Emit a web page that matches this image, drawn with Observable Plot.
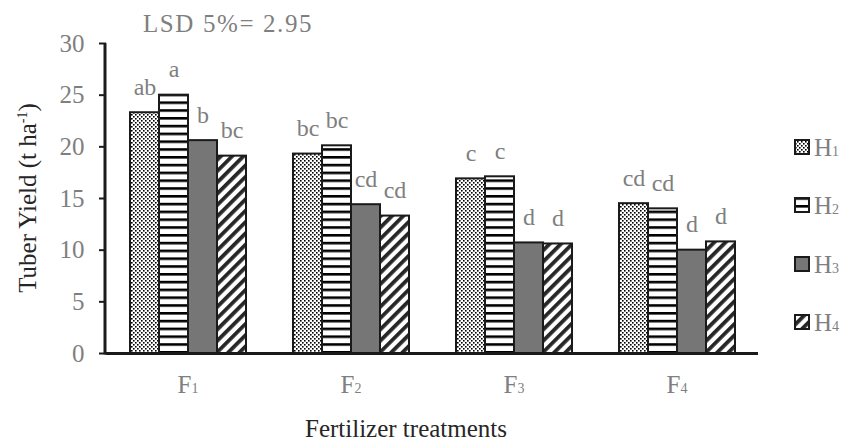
<!DOCTYPE html>
<html>
<head>
<meta charset="utf-8">
<script src="https://cdn.jsdelivr.net/npm/d3@7"></script>
<script src="https://cdn.jsdelivr.net/npm/@observablehq/plot@0.6"></script>
<style>
  html, body { margin: 0; padding: 0; background: #fff; }
  #chart { width: 842px; height: 441px; overflow: hidden; }
  #chart svg, #chart svg text { font-family: "Liberation Serif", "Times New Roman", serif !important; }
</style>
</head>
<body>
<div id="chart"></div>
<script>
// ---- data ----
const fertilizers = ["F1", "F2", "F3", "F4"];
const harvests = ["H1", "H2", "H3", "H4"];
const yieldH1 = [23.3, 19.3, 16.9, 14.5];
const yieldH2 = [25.0, 20.1, 17.1, 14.0];
const yieldH3 = [20.6, 14.4, 10.7, 10.0];
const yieldH4 = [19.1, 13.3, 10.6, 10.8];
const lettersH1 = ["ab", "bc", "c", "cd"];
const lettersH2 = ["a", "bc", "c", "cd"];
const lettersH3 = ["b", "cd", "d", "d"];
const lettersH4 = ["bc", "cd", "d", "d"];
const yTicks = [0, 5, 10, 15, 20, 25, 30];
const lsdText = "LSD 5%= 2.95";
const yTitle = "Tuber Yield (t ha";
const ySup = "-1";
const xTitle = "Fertilizer treatments";

const seriesValues = [yieldH1, yieldH2, yieldH3, yieldH4];
const seriesLetters = [lettersH1, lettersH2, lettersH3, lettersH4];
const data = [];
fertilizers.forEach((f, i) => {
  harvests.forEach((h, j) => {
    data.push({F: f, H: h, v: seriesValues[j][i], lab: seriesLetters[j][i]});
  });
});

const patternUrls = ["url(#pDots)", "url(#pHoriz)", "#767676", "url(#pDiag)"];
const gray = "#7f7f7f";
const dark = "#1a1a1a";

const plot = Plot.plot({
  width: 842,
  height: 441,
  marginLeft: 105,
  marginRight: 83,
  marginTop: 43,
  marginBottom: 88,
  style: {background: "#fff", overflow: "visible"},
  fx: {domain: fertilizers, padding: 0, label: null, axis: null},
  x: {domain: harvests, paddingOuter: 0.725, paddingInner: 0, axis: null},
  y: {domain: [0, 30], label: null},
  color: {domain: harvests, range: patternUrls},
  marks: [
    Plot.barY(data, {fx: "F", x: "H", y: "v", fill: "H", stroke: dark, strokeWidth: 2}),
    Plot.text(data, {fx: "F", x: "H", y: "v", text: "lab", lineAnchor: "bottom", dy: -18, fill: gray, fontSize: 24}),
    Plot.axisY({ticks: yTicks, tickSize: 7, tickPadding: 15, stroke: dark, strokeWidth: 2, fill: gray, fontSize: 25, label: null}),
    Plot.axisFx({anchor: "bottom", tickSize: 0, tickPadding: 22, fill: gray, fontSize: 25, label: null}),
    Plot.ruleY([0], {stroke: dark, strokeWidth: 3})
  ]
});

document.getElementById("chart").appendChild(plot);

const svg = d3.select(plot);
svg.style("font-family", "'Liberation Serif', 'Times New Roman', serif");

// pattern definitions
const defs = svg.insert("defs", ":first-child");
const pd = defs.append("pattern").attr("id", "pDots").attr("patternUnits", "userSpaceOnUse").attr("width", 4).attr("height", 4);
pd.append("rect").attr("width", 4).attr("height", 4).attr("fill", "#fff");
pd.append("rect").attr("x", 0).attr("y", 0).attr("width", 1.6).attr("height", 1.6).attr("fill", "#000");
pd.append("rect").attr("x", 2).attr("y", 2).attr("width", 1.6).attr("height", 1.6).attr("fill", "#000");
const ph = defs.append("pattern").attr("id", "pHoriz").attr("patternUnits", "userSpaceOnUse").attr("width", 8).attr("height", 7.8);
ph.append("rect").attr("width", 8).attr("height", 7.8).attr("fill", "#fff");
ph.append("rect").attr("x", 0).attr("y", 0).attr("width", 8).attr("height", 2.6).attr("fill", "#000");
const pg = defs.append("pattern").attr("id", "pDiag").attr("patternUnits", "userSpaceOnUse").attr("width", 8).attr("height", 8).attr("patternTransform", "rotate(45)");
pg.append("rect").attr("width", 8).attr("height", 8).attr("fill", "#fff");
pg.append("rect").attr("x", 0).attr("y", 0).attr("width", 3.8).attr("height", 8).attr("fill", "#262626");

// y axis line
const yScale = plot.scale("y");
svg.append("line")
  .attr("x1", 105).attr("x2", 105)
  .attr("y1", yScale.apply(0) + 1.5).attr("y2", yScale.apply(30))
  .attr("stroke", dark).attr("stroke-width", 3);

// subscripted fx tick labels
svg.selectAll('[aria-label="fx-axis tick label"] text').each(function () {
  const t = this.textContent;
  const el = d3.select(this);
  el.text(null);
  el.append("tspan").text(t.slice(0, 1));
  el.append("tspan").attr("font-size", 14).text(t.slice(1));
});

// LSD note
svg.append("text")
  .attr("x", 143).attr("y", 32)
  .attr("text-anchor", "start")
  .attr("fill", gray).attr("font-size", 25)
  .style("letter-spacing", "1.6px")
  .text(lsdText);

// y title
const yt = svg.append("text")
  .attr("transform", "translate(36,198) rotate(-90)")
  .attr("text-anchor", "middle")
  .attr("fill", "#262626").attr("font-size", 25);
yt.append("tspan").text(yTitle);
yt.append("tspan").attr("font-size", 14).attr("dy", -9).text(ySup);
yt.append("tspan").attr("dy", 9).text(")");

// x title
svg.append("text")
  .attr("x", 406).attr("y", 437)
  .attr("text-anchor", "middle")
  .attr("fill", "#262626").attr("font-size", 25)
  .text(xTitle);

// legend
const colorScale = plot.scale("color");
const legendY = [147, 205, 264, 322];
const lg = svg.append("g");
harvests.forEach((h, i) => {
  const g = lg.append("g").attr("transform", `translate(795,${legendY[i]})`);
  g.append("rect").attr("x", 0).attr("y", -7).attr("width", 14).attr("height", 14)
    .attr("fill", colorScale.apply(h)).attr("stroke", dark).attr("stroke-width", 2);
  const t = g.append("text").attr("x", 19).attr("y", 9).attr("text-anchor", "start")
    .attr("fill", gray).attr("font-size", 25);
  t.append("tspan").text(h.slice(0, 1));
  t.append("tspan").attr("font-size", 14).text(h.slice(1));
});
</script>
</body>
</html>
